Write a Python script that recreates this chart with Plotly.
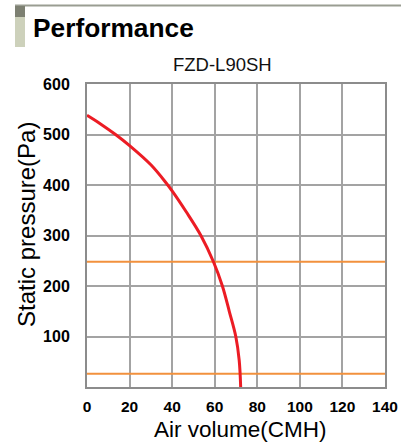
import plotly.graph_objects as go

# Data
curve_x = [0, 6.7, 13.4, 20, 30, 37.2, 40.4, 46.6, 53.5, 59.4, 63.6, 66.9, 69.9, 71.5, 72.2]
curve_y = [538, 520, 500, 478, 440, 404, 386, 347, 300, 248, 200, 149, 100, 53, 0]
ref_levels = [248, 26]
x_ticks = [0, 20, 40, 60, 80, 100, 120, 140]
y_ticks = [100, 200, 300, 400, 500, 600]

W, H = 401, 442
L, R, T, B = 87, 16, 84, 55
pw, ph = W - L - R, H - T - B
FONT = "Liberation Sans, Arial"

def px(xp):
    return (xp - L) / pw

def py(yp):
    return (H - B - yp) / ph

fig = go.Figure()
for lv in ref_levels:
    fig.add_trace(go.Scatter(x=[0, 140], y=[lv, lv], mode="lines",
                             line=dict(color="#f2913d", width=2),
                             hoverinfo="skip", showlegend=False))
fig.add_trace(go.Scatter(x=curve_x, y=curve_y, mode="lines",
                         line=dict(color="#ec1c24", width=3, shape="spline", smoothing=1.0),
                         showlegend=False))

shapes = [
    dict(type="line", xref="paper", yref="paper", x0=px(15), x1=px(401), y0=py(5.5), y1=py(5.5),
         line=dict(color="#9a9d92", width=2)),
    dict(type="rect", xref="paper", yref="paper", x0=px(15), x1=px(25), y0=py(17), y1=py(6),
         fillcolor="#7d8072", line=dict(width=0)),
    dict(type="rect", xref="paper", yref="paper", x0=px(15), x1=px(25), y0=py(47), y1=py(17),
         fillcolor="#cdd1bb", line=dict(width=0)),
]

annotations = [
    dict(text="<b>Performance</b>", xref="paper", yref="paper", x=px(31), y=py(28),
         xanchor="left", yanchor="middle", showarrow=False,
         font=dict(family=FONT, size=26.3, color="#000")),
    dict(text="FZD-L90SH", xref="paper", yref="paper", x=px(222), y=py(64),
         xanchor="center", yanchor="middle", showarrow=False,
         font=dict(family=FONT, size=18.5, color="#111")),
    dict(text="Static pressure(Pa)", xref="paper", yref="paper", x=px(26), y=py(225),
         xanchor="center", yanchor="middle", textangle=-90, showarrow=False,
         font=dict(family=FONT, size=24, color="#000")),
    dict(text="Air volume(CMH)", xref="paper", yref="paper", x=px(240), y=py(429),
         xanchor="center", yanchor="middle", showarrow=False,
         font=dict(family=FONT, size=22.5, color="#000")),
]

fig.update_layout(
    width=W, height=H,
    margin=dict(l=L, r=R, t=T, b=B, autoexpand=False),
    paper_bgcolor="white", plot_bgcolor="white",
    shapes=shapes, annotations=annotations,
    font=dict(family=FONT, color="#000"),
)
fig.update_xaxes(range=[0, 140], tickvals=x_ticks, ticktext=[f"<b>{v}</b>" for v in x_ticks],
                 showgrid=True, gridcolor="#a3a3a3", gridwidth=1.5,
                 showline=True, linecolor="#8c8c8c", linewidth=2, mirror=True,
                 zeroline=False, ticks="", tickfont=dict(size=15.5), automargin=False,
                 ticklabelstandoff=4)
fig.update_yaxes(range=[0, 600], tickvals=y_ticks, ticktext=[f"<b>{v}</b>" for v in y_ticks],
                 showgrid=True, gridcolor="#a3a3a3", gridwidth=1.5,
                 showline=True, linecolor="#8c8c8c", linewidth=2, mirror=True,
                 zeroline=False, ticks="", tickfont=dict(size=16), automargin=False,
                 ticklabelstandoff=12)

fig.write_html("out.html", config={"displayModeBar": False},
               post_script="document.body.style.margin='0';")
